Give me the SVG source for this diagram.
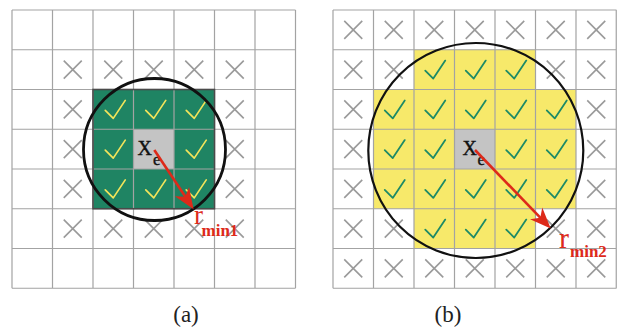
<svg xmlns="http://www.w3.org/2000/svg" xmlns:xlink="http://www.w3.org/1999/xlink" width="617" height="335" viewBox="0 0 617 335">
  <style>
    .grid { stroke: #a3a3a3; stroke-width: 1.2; fill: none; }
    .cross { stroke: #9a9a9a; stroke-width: 1.6; fill: none; }
    .chk-y { stroke: #f2e45a; stroke-width: 1.7; fill: none; stroke-linecap: round; stroke-linejoin: round; }
    .chk-g { stroke: #1d8a66; stroke-width: 1.8; fill: none; stroke-linecap: round; stroke-linejoin: round; }
    .green { fill: #1f8463; }
    .yellow { fill: #f7e96a; }
    .centre { fill: #c4c4c4; }
    .ring { fill: none; stroke: #111; }
    .radius { stroke: #dd2a1a; stroke-width: 2.6; fill: none; marker-end: url(#head); }
    .lbl { font-family: "Liberation Serif", "Times New Roman", serif; fill: #111; stroke: #111; stroke-width: 0.4; }
    .rlbl { font-family: "Liberation Serif", "Times New Roman", serif; fill: #dd2a1a; }
    .cap { font-family: "Liberation Serif", "Times New Roman", serif; font-size: 23px; fill: #222; text-anchor: middle; }
  </style>
  <defs>
    <path id="x" class="cross" d="M-9,-9 L9,9 M9,-9 L-9,9"/>
    <path id="cy" class="chk-y" d="M-8,1 L0,9 L12,-9"/>
    <path id="cg" class="chk-g" d="M-9,1 L-1,9 L11,-9"/>
    <marker id="head" markerUnits="userSpaceOnUse" markerWidth="24" markerHeight="20" viewBox="0 -10 22 20" refX="8" refY="0" orient="auto">
      <path d="M21,0 L0,-8.5 L6,0 L0,8.5 Z" fill="#dd2a1a"/>
    </marker>
  </defs>

  <!-- panel (a): 7x7 cells, origin (12,10), cell 40.5 x 39.75 -->
  <g id="panel-a">
    <rect class="green" x="93" y="89.5" width="121.5" height="119.25"/>
    <rect class="centre" x="133.5" y="129.25" width="40.5" height="39.75"/>
    <path class="grid" d="M12,10 H295.5 M12,49.75 H295.5 M12,89.5 H295.5 M12,129.25 H295.5 M12,169 H295.5 M12,208.75 H295.5 M12,248.5 H295.5 M12,288.25 H295.5
      M12,10 V288.25 M52.5,10 V288.25 M93,10 V288.25 M133.5,10 V288.25 M174,10 V288.25 M214.5,10 V288.25 M255,10 V288.25 M295.5,10 V288.25"/>
    <rect x="93" y="89.5" width="121.5" height="119.25" fill="none" stroke="#4a4a4a" stroke-width="1.6"/>
    <!-- rejected cells -->
    <use href="#x" x="72.75" y="69.6"/>
    <use href="#x" x="113.25" y="69.6"/>
    <use href="#x" x="153.75" y="69.6"/>
    <use href="#x" x="194.25" y="69.6"/>
    <use href="#x" x="234.75" y="69.6"/>
    <use href="#x" x="72.75" y="109.4"/>
    <use href="#x" x="234.75" y="109.4"/>
    <use href="#x" x="72.75" y="149.1"/>
    <use href="#x" x="234.75" y="149.1"/>
    <use href="#x" x="72.75" y="188.9"/>
    <use href="#x" x="234.75" y="188.9"/>
    <use href="#x" x="72.75" y="228.6"/>
    <use href="#x" x="113.25" y="228.6"/>
    <use href="#x" x="153.75" y="228.6"/>
    <use href="#x" x="194.25" y="228.6"/>
    <use href="#x" x="234.75" y="228.6"/>
    <!-- accepted cells -->
    <use href="#cy" x="113.25" y="109.4"/>
    <use href="#cy" x="153.75" y="109.4"/>
    <use href="#cy" x="194.25" y="109.4"/>
    <use href="#cy" x="113.25" y="149.1"/>
    <use href="#cy" x="194.25" y="149.1"/>
    <use href="#cy" x="113.25" y="188.9"/>
    <use href="#cy" x="153.75" y="188.9"/>
    <use href="#cy" x="194.25" y="188.9"/>
    <circle class="ring" cx="154.5" cy="149.5" r="71" stroke-width="2.8"/>
    <text class="lbl" x="137.5" y="155" font-size="20">X</text>
    <text class="lbl" x="153" y="165" font-size="17">e</text>
    <path class="radius" d="M154.3,150 L186.4,198.3"/>
    <text class="rlbl" x="194" y="224" font-size="27">r</text>
    <text class="rlbl" x="201.5" y="236" font-size="17" font-weight="bold">min1</text>
  </g>

  <!-- panel (b): 7x7 cells, origin (333,10), cell 40.5 x 39.75 -->
  <g id="panel-b">
    <path class="yellow" d="M414,49.75 H535.5 V89.5 H576 V208.75 H535.5 V248.5 H414 V208.75 H373.5 V89.5 H414 Z"/>
    <rect class="centre" x="454.5" y="129.25" width="40.5" height="39.75"/>
    <path class="grid" d="M333,10 H616.5 M333,49.75 H616.5 M333,89.5 H616.5 M333,129.25 H616.5 M333,169 H616.5 M333,208.75 H616.5 M333,248.5 H616.5 M333,288.25 H616.5
      M333,10 V288.25 M373.5,10 V288.25 M414,10 V288.25 M454.5,10 V288.25 M495,10 V288.25 M535.5,10 V288.25 M576,10 V288.25 M616.25,10 V288.25"/>
    <!-- rejected cells -->
    <use href="#x" x="353.25" y="29.9"/>
    <use href="#x" x="393.75" y="29.9"/>
    <use href="#x" x="434.25" y="29.9"/>
    <use href="#x" x="474.75" y="29.9"/>
    <use href="#x" x="515.25" y="29.9"/>
    <use href="#x" x="555.75" y="29.9"/>
    <use href="#x" x="596.25" y="29.9"/>
    <use href="#x" x="353.25" y="69.6"/>
    <use href="#x" x="393.75" y="69.6"/>
    <use href="#x" x="555.75" y="69.6"/>
    <use href="#x" x="596.25" y="69.6"/>
    <use href="#x" x="353.25" y="109.4"/>
    <use href="#x" x="596.25" y="109.4"/>
    <use href="#x" x="353.25" y="149.1"/>
    <use href="#x" x="596.25" y="149.1"/>
    <use href="#x" x="353.25" y="188.9"/>
    <use href="#x" x="596.25" y="188.9"/>
    <use href="#x" x="353.25" y="228.6"/>
    <use href="#x" x="393.75" y="228.6"/>
    <use href="#x" x="555.75" y="228.6"/>
    <use href="#x" x="596.25" y="228.6"/>
    <use href="#x" x="353.25" y="268.4"/>
    <use href="#x" x="393.75" y="268.4"/>
    <use href="#x" x="434.25" y="268.4"/>
    <use href="#x" x="474.75" y="268.4"/>
    <use href="#x" x="515.25" y="268.4"/>
    <use href="#x" x="555.75" y="268.4"/>
    <use href="#x" x="596.25" y="268.4"/>
    <!-- accepted cells -->
    <use href="#cg" x="434.25" y="69.6"/>
    <use href="#cg" x="474.75" y="69.6"/>
    <use href="#cg" x="515.25" y="69.6"/>
    <use href="#cg" x="393.75" y="109.4"/>
    <use href="#cg" x="434.25" y="109.4"/>
    <use href="#cg" x="474.75" y="109.4"/>
    <use href="#cg" x="515.25" y="109.4"/>
    <use href="#cg" x="555.75" y="109.4"/>
    <use href="#cg" x="393.75" y="149.1"/>
    <use href="#cg" x="434.25" y="149.1"/>
    <use href="#cg" x="515.25" y="149.1"/>
    <use href="#cg" x="555.75" y="149.1"/>
    <use href="#cg" x="393.75" y="188.9"/>
    <use href="#cg" x="434.25" y="188.9"/>
    <use href="#cg" x="474.75" y="188.9"/>
    <use href="#cg" x="515.25" y="188.9"/>
    <use href="#cg" x="555.75" y="188.9"/>
    <use href="#cg" x="434.25" y="228.6"/>
    <use href="#cg" x="474.75" y="228.6"/>
    <use href="#cg" x="515.25" y="228.6"/>
    <circle class="ring" cx="475.8" cy="150.5" r="107.5" stroke-width="2.2"/>
    <text class="lbl" x="462.5" y="154.5" font-size="20">X</text>
    <text class="lbl" x="477.5" y="165" font-size="17">e</text>
    <path class="radius" d="M475,150 L541.7,219.1"/>
    <text class="rlbl" x="559" y="248" font-size="30">r</text>
    <text class="rlbl" x="570" y="257" font-size="17" font-weight="bold">min2</text>
  </g>

  <text class="cap" x="186" y="321.5">(a)</text>
  <text class="cap" x="448" y="321.5">(b)</text>
</svg>
